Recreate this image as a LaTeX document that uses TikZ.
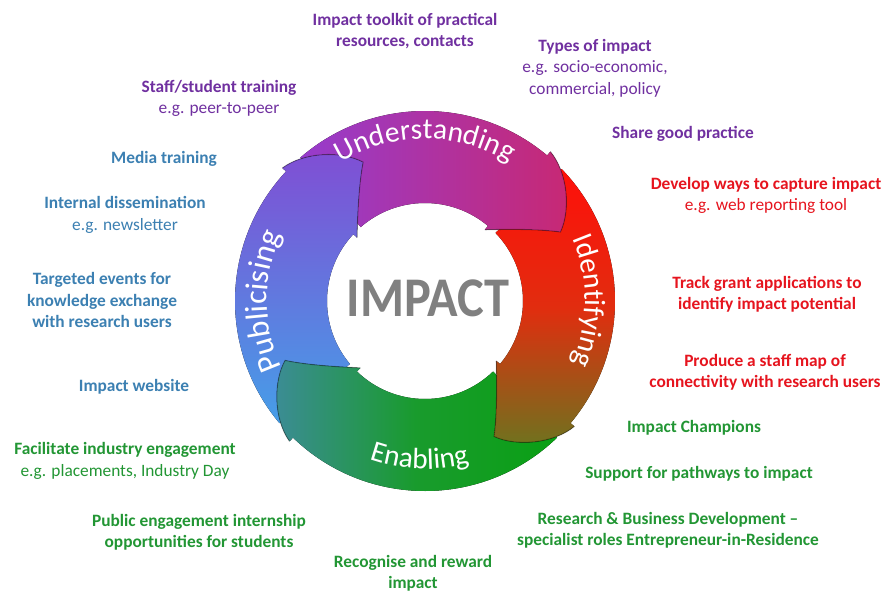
\documentclass[tikz,border=0pt]{standalone}
\usepackage{fontspec}
\setmainfont{Carlito}
\usetikzlibrary{calc,decorations.text}
\definecolor{cpurple}{RGB}{112,48,160}
\definecolor{cblue}{RGB}{60,128,178}
\definecolor{cgreen}{RGB}{34,150,52}
\definecolor{cred}{RGB}{230,20,30}
\definecolor{cgray}{RGB}{128,128,128}
\definecolor{uL}{RGB}{150,60,205}
\definecolor{uR}{RGB}{200,40,115}
\definecolor{iT}{RGB}{255,15,10}
\definecolor{iM}{RGB}{225,45,15}
\definecolor{iB}{RGB}{110,115,30}
\definecolor{eR}{RGB}{10,160,20}
\definecolor{eM}{RGB}{25,155,45}
\definecolor{eL}{RGB}{60,140,150}
\definecolor{pB}{RGB}{70,158,232}
\definecolor{pT}{RGB}{128,78,212}
% #1 tail angle, #2 head base angle
\newcommand{\arrowpath}[2]{($(C)+(#1:190)$) arc[start angle=#1, end angle=#2, radius=190]
 -- ($(C)+(#2:195)$)
 .. controls ($(C)+({#2-8}:192)$) and ($(C)+({#2-18}:172)$) .. ($(C)+({#2-23}:152)$)
 .. controls ($(C)+({#2-17}:133)$) and ($(C)+({#2-7}:105)$) .. ($(C)+(#2:93)$)
 -- ($(C)+(#2:98)$) arc[start angle=#2, end angle=#1, radius=98] -- cycle}
\newcommand{\headedge}[1]{($(C)+(#1:195)$)
 .. controls ($(C)+({#1-8}:192)$) and ($(C)+({#1-18}:172)$) .. ($(C)+({#1-23}:152)$)
 .. controls ($(C)+({#1-17}:133)$) and ($(C)+({#1-7}:105)$) .. ($(C)+(#1:93)$)}
\tikzset{
  lbl/.style={align=center, inner sep=0pt, font=\fontsize{13}{16}\selectfont\bfseries},
  shU/.style={left color=uL, right color=uR},
  shI/.style={top color=iT, bottom color=iB, middle color=iM},
  shE/.style={left color=eL, right color=eR, middle color=eM},
  shP/.style={bottom color=pB, top color=pT},
  hedge/.style={draw=black, draw opacity=0.28, line width=0.8pt},
  ringtext/.style 2 args={decorate, decoration={text along path, text align=center, text color=white,
     text={|\fontsize{#2}{#2}\selectfont|#1}}}
}
\begin{document}
\begin{tikzpicture}[x=0.75pt,y=0.75pt]
\useasboundingbox (0,0) rectangle (884,-592);
\fill[white] (0,0) rectangle (884,-592);
\coordinate (C) at (425,-301);

% arrows: each head lies on the following segment
\fill[shP] \arrowpath{220}{137};
\fill[shE] \arrowpath{-46}{-134};
\fill[shI] \arrowpath{44}{-40};
\begin{scope}
  \clip (0,0) rectangle (884,-592) \headedge{137} -- cycle;
  \fill[shU] \arrowpath{131}{50};
\end{scope}
\draw[hedge] \headedge{50};
\draw[hedge] \headedge{-40};
\draw[hedge] \headedge{-134};
\draw[hedge] \headedge{137};

% ring labels
\path[ringtext={Understanding}{22}] ($(C)+(150:162)$) arc[start angle=150, end angle=30, radius=162];
\path[ringtext={Identifying}{22}] ($(C)+(40:160)$) arc[start angle=40, end angle=-40, radius=160];
\path[ringtext={Enabling}{22}] ($(C)+(228:168)$) arc[start angle=228, end angle=308, radius=168];
\path[ringtext={Publicising}{24}] ($(C)+(222:158)$) arc[start angle=222, end angle=138, radius=158];

\node[text=cgray, font=\fontsize{42}{42}\selectfont\bfseries] (impact) at (428,-298) {\scalebox{0.9}[1]{IMPACT}};

% purple labels
\node[lbl, text=cpurple] (toolkit) at (405,-31) {Impact toolkit of practical\\resources, contacts};
\node[lbl, text=cpurple] (types) at (595,-68) {Types of impact\\{\mdseries e.g. socio-economic,}\\{\mdseries commercial, policy}};
\node[lbl, text=cpurple] (share) at (683,-134) {Share good practice};
\node[lbl, text=cpurple] (staff) at (219,-98.5) {Staff/student training\\{\mdseries e.g. peer-to-peer}};
% blue labels
\node[lbl, text=cblue] (media) at (164,-159) {Media training};
\node[lbl, text=cblue] (internal) at (125,-215) {Internal dissemination\\{\mdseries e.g. newsletter}};
\node[lbl, text=cblue] (targeted) at (102,-300) {Targeted events for\\knowledge exchange\\with research users};
\node[lbl, text=cblue] (website) at (134,-387) {Impact website};
% green labels
\node[lbl, text=cgreen] (facilitate) at (125,-461) {Facilitate industry engagement\\{\mdseries e.g. placements, Industry Day}};
\node[lbl, text=cgreen] (public) at (199,-532) {Public engagement internship\\opportunities for students};
\node[lbl, text=cgreen] (recognise) at (413,-573) {Recognise and reward\\impact};
\node[lbl, text=cgreen] (research) at (668,-530.5) {Research \& Business Development --\\specialist roles Entrepreneur-in-Residence};
\node[lbl, text=cgreen] (support) at (699,-474) {Support for pathways to impact};
\node[lbl, text=cgreen] (champions) at (694,-428) {Impact Champions};
% red labels
\node[lbl, text=cred] (develop) at (766,-195.5) {Develop ways to capture impact\\{\mdseries e.g. web reporting tool}};
\node[lbl, text=cred] (track) at (767,-294) {Track grant applications to\\identify impact potential};
\node[lbl, text=cred] (produce) at (765,-372.5) {Produce a staff map of\\connectivity with research users};
\end{tikzpicture}
\end{document}
